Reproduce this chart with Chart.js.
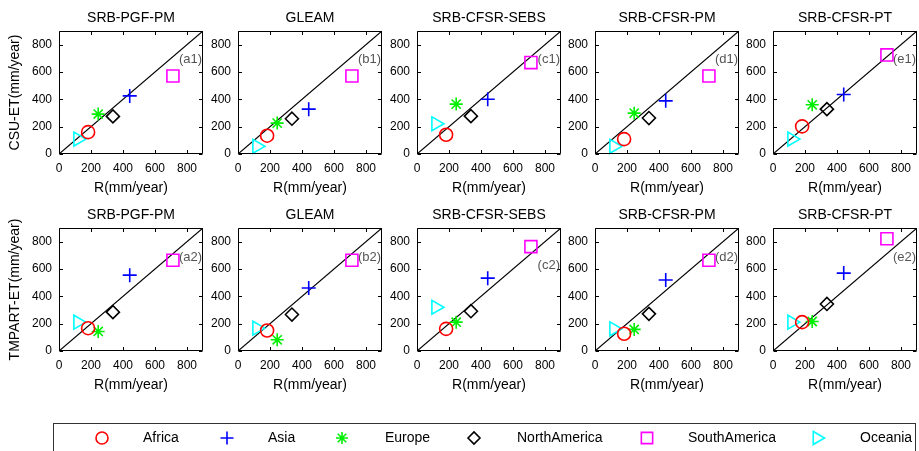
<!DOCTYPE html>
<html><head><meta charset="utf-8">
<script src="https://cdn.jsdelivr.net/npm/chart.js@4.4.1/dist/chart.umd.min.js"></script>
<style>
html,body{margin:0;padding:0;background:#fff;overflow:hidden;width:919px;height:451px;}
canvas.p{position:absolute;}
</style></head><body>
<script>
// ---------- data ----------
const categories = ['Africa', 'Asia', 'Europe', 'NorthAmerica', 'SouthAmerica', 'Oceania'];
const refR = [182, 442, 245, 337, 712, 118];            // R (mm/year), x values
const panelTitles = ['SRB-PGF-PM', 'GLEAM', 'SRB-CFSR-SEBS', 'SRB-CFSR-PM', 'SRB-CFSR-PT'];
const rowLabels = ['CSU-ET(mm/year)', 'TMPART-ET(mm/year)'];
const xLabel = 'R(mm/year)';
const tagsRow1 = ['(a1)', '(b1)', '(c1)', '(d1)', '(e1)'];
const tagsRow2 = ['(a2)', '(b2)', '(c2)', '(d2)', '(e2)'];
const tagLevelRow1 = [690, 690, 690, 690, 690];
const tagLevelRow2 = [684, 684, 628, 684, 684];
const tickValues = [0, 200, 400, 600, 800];
const axisMin = 0, axisMax = 900;
const oneToOne = [0, 900];

// CSU-ET values per product (order = categories)
const csuPGFPM   = [160, 425, 292, 275, 571, 109];
const csuGLEAM   = [134, 328, 226, 258, 571, 56];
const csuSEBS    = [141, 401, 365, 277, 669, 221];
const csuCFSRPM  = [109, 389, 299, 263, 571, 56];
const csuCFSRPT  = [202, 435, 360, 328, 725, 109];
// TMPART-ET values per product
const tmpPGFPM   = [167, 555, 143, 284, 664, 211];
const tmpGLEAM   = [150, 461, 82, 267, 664, 167];
const tmpSEBS    = [162, 533, 211, 291, 764, 320];
const tmpCFSRPM  = [126, 519, 158, 272, 664, 162];
const tmpCFSRPT  = [211, 570, 216, 344, 821, 211];

// ---------- styles ----------
const markerStyles = ['circle', 'cross', 'star', 'rectRot', 'rect', 'triangle'];
const markerColors = ['#ff0000', '#0000ff', '#00ee00', '#000000', '#ff00ff', '#00ffff'];
const markerRadius = [6.5, 7, 6.5, 6.5, 8.5, 8];
const markerRotation = [0, 0, 0, 0, 0, 90];

const FONT = "'Liberation Sans', Arial, Helvetica, sans-serif";
Chart.defaults.font.family = FONT;
Chart.defaults.color = '#000';

const colLeft = [59, 238, 417, 595, 773];
const rowTop = [0, 197];
const Y_AXIS_W = 59, PLOT_W = 144, CANVAS_H = 197, X_AXIS_H = 43;

const framePlugin = {
  id: 'frame',
  afterDatasetsDraw(chart, args, opts) {
    const {ctx, chartArea: a, scales: {x, y}} = chart;
    ctx.save();
    ctx.strokeStyle = '#000';
    ctx.lineWidth = 1;
    ctx.beginPath();
    const L = Math.round(a.left) + 0.5, R = Math.round(a.right) - 0.5;
    const T = Math.round(a.top) + 0.5, B = Math.round(a.bottom) - 0.5;
    ctx.rect(L, T, R - L, B - T);
    const tl = 3.5;
    tickValues.forEach(v => {
      const px = Math.round(x.getPixelForValue(v)) + 0.5;
      ctx.moveTo(px, B); ctx.lineTo(px, B - tl);
      ctx.moveTo(px, T); ctx.lineTo(px, T + tl);
      const py = Math.round(y.getPixelForValue(v)) + 0.5;
      ctx.moveTo(L, py); ctx.lineTo(L + tl, py);
      ctx.moveTo(R, py); ctx.lineTo(R - tl, py);
    });
    ctx.stroke();
    // panel tag
    ctx.fillStyle = '#555';
    ctx.font = '13px ' + FONT;
    ctx.textAlign = 'right';
    ctx.textBaseline = 'middle';
    ctx.fillText(opts.tag, a.right - 1, y.getPixelForValue(opts.level));
    ctx.restore();
  }
};

function makePanel(row, col, values, title, tag, level) {
  const c = document.createElement('canvas');
  c.className = 'p';
  const w = Y_AXIS_W + PLOT_W + 1;
  c.width = w; c.height = CANVAS_H;
  c.style.width = w + 'px'; c.style.height = CANVAS_H + 'px';
  c.style.left = (colLeft[col] - Y_AXIS_W) + 'px';
  c.style.top = rowTop[row] + 'px';
  document.body.appendChild(c);

  const datasets = categories.map((name, i) => ({
    label: name,
    data: [{x: refR[i], y: values[i]}],
    pointStyle: markerStyles[i],
    pointRadius: markerRadius[i],
    pointRotation: markerRotation[i],
    pointBorderWidth: 1.6,
    borderColor: markerColors[i],
    backgroundColor: 'rgba(0,0,0,0)',
    clip: 12,
    order: 0
  }));
  datasets.push({
    label: '1:1',
    data: oneToOne.map(v => ({x: v, y: v})),
    showLine: true,
    pointRadius: 0,
    borderColor: '#000',
    borderWidth: 1.2,
    order: 10
  });

  const setTicks = s => { s.ticks = tickValues.map(v => ({value: v})); };

  new Chart(c, {
    type: 'scatter',
    data: {datasets},
    options: {
      responsive: false,
      animation: false,
      devicePixelRatio: 1,
      layout: {autoPadding: false, padding: {left: 0, top: 0, bottom: 0, right: 1}},
      plugins: {
        legend: {display: false},
        tooltip: {enabled: false},
        title: {
          display: true, text: title, fullSize: false,
          font: {size: 14, weight: 'normal', lineHeight: 1},
          padding: {top: 11, bottom: 6}, color: '#000'
        },
        frame: {tag, level}
      },
      scales: {
        x: {
          type: 'linear', min: axisMin, max: axisMax,
          afterBuildTicks: setTicks,
          afterFit: s => { s.height = X_AXIS_H; s.paddingLeft = 0; s.paddingRight = 0; },
          grid: {display: false, drawTicks: false},
          border: {display: false},
          ticks: {font: {size: 12}, padding: 7, color: '#000', maxRotation: 0, autoSkip: false},
          title: {display: true, text: xLabel, font: {size: 14, lineHeight: 1.2}, padding: 0, color: '#000'}
        },
        y: {
          type: 'linear', min: axisMin, max: axisMax,
          afterBuildTicks: setTicks,
          afterFit: s => { s.width = Y_AXIS_W; s.paddingTop = 0; s.paddingBottom = 0; },
          grid: {display: false, drawTicks: false},
          border: {display: false},
          ticks: {font: {size: 12}, padding: 7, color: '#000', autoSkip: false},
          title: {display: col === 0, text: rowLabels[row], font: {size: 14, lineHeight: 1.2}, padding: {top: 7, bottom: 0}, color: '#000'}
        }
      }
    },
    plugins: [framePlugin]
  });
}

const row1 = [csuPGFPM, csuGLEAM, csuSEBS, csuCFSRPM, csuCFSRPT];
const row2 = [tmpPGFPM, tmpGLEAM, tmpSEBS, tmpCFSRPM, tmpCFSRPT];
row1.forEach((v, i) => makePanel(0, i, v, panelTitles[i], tagsRow1[i], tagLevelRow1[i]));
row2.forEach((v, i) => makePanel(1, i, v, panelTitles[i], tagsRow2[i], tagLevelRow2[i]));

// ---------- legend ----------
const legendMarkerX = [102, 227, 342, 474, 647, 817];
const legendTextX = [143, 268, 385, 517, 688, 860];
const legendPlugin = {
  id: 'boxLegend',
  afterDraw(chart) {
    const ctx = chart.ctx;
    ctx.save();
    ctx.strokeStyle = '#333';
    ctx.lineWidth = 1;
    ctx.strokeRect(53.5, 13.5, 862, 40);
    ctx.font = '14px ' + FONT;
    ctx.textBaseline = 'middle';
    ctx.textAlign = 'left';
    const yc = 28;
    chart.data.datasets.forEach((ds, i) => {
      ctx.strokeStyle = ds.borderColor;
      ctx.fillStyle = 'rgba(0,0,0,0)';
      ctx.lineWidth = 1.6;
      Chart.helpers.drawPoint(ctx, {pointStyle: ds.pointStyle, rotation: ds.pointRotation, radius: ds.pointRadius, borderWidth: 1.6}, legendMarkerX[i], yc);
      ctx.fillStyle = '#000';
      ctx.fillText(ds.label, legendTextX[i], yc);
    });
    ctx.restore();
  }
};
const lc = document.createElement('canvas');
lc.className = 'p';
lc.width = 919; lc.height = 41;
lc.style.width = '919px'; lc.style.height = '41px';
lc.style.left = '0px'; lc.style.top = '410px';
document.body.appendChild(lc);
new Chart(lc, {
  type: 'scatter',
  data: {datasets: categories.map((name, i) => ({
    label: name, data: [],
    pointStyle: markerStyles[i], pointRadius: markerRadius[i] - 0.5, pointRotation: markerRotation[i],
    borderColor: markerColors[i]
  }))},
  options: {
    responsive: false, animation: false, devicePixelRatio: 1,
    layout: {autoPadding: false},
    plugins: {legend: {display: false}, tooltip: {enabled: false}},
    scales: {x: {display: false}, y: {display: false}}
  },
  plugins: [legendPlugin]
});
</script>
</body></html>
